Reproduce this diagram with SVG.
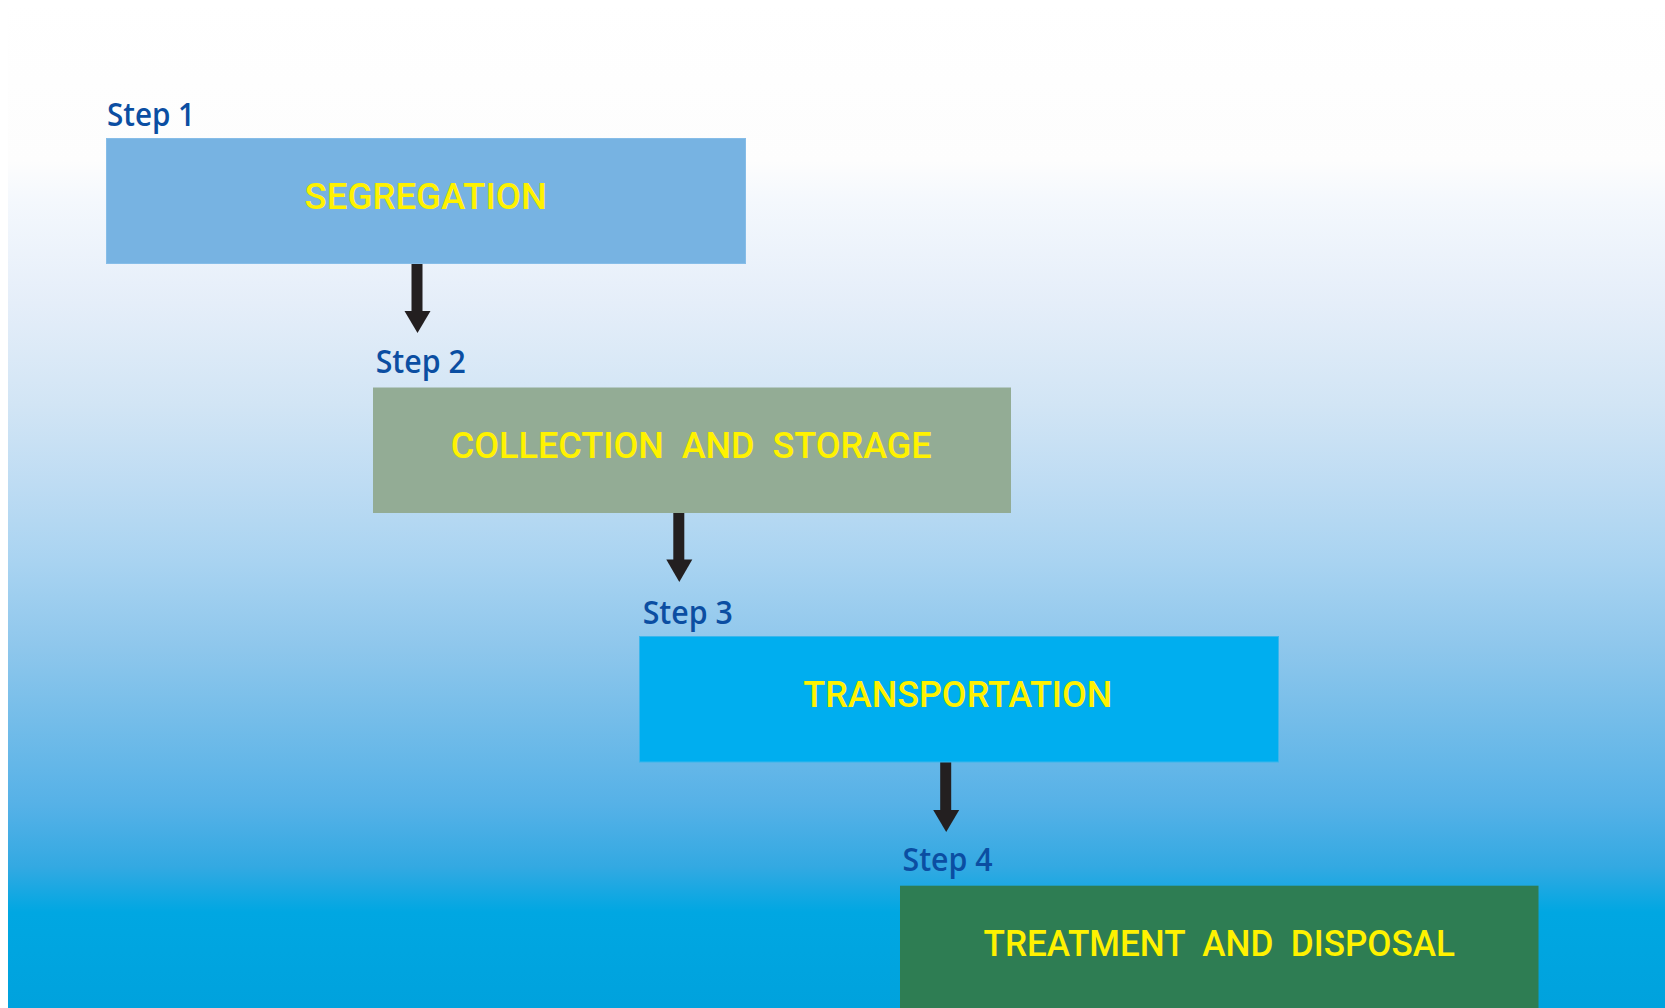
<svg xmlns="http://www.w3.org/2000/svg" width="1665" height="1008" viewBox="0 0 1665 1008">
  <defs>
    <linearGradient id="sky" x1="0" y1="0" x2="0" y2="1008" gradientUnits="userSpaceOnUse">
      <stop offset="0" stop-color="#ffffff"/>
      <stop offset="0.16" stop-color="#fdfdfd"/>
      <stop offset="0.2" stop-color="#f4f8fd"/>
      <stop offset="0.3" stop-color="#e5eef9"/>
      <stop offset="0.4" stop-color="#d2e5f5"/>
      <stop offset="0.48" stop-color="#bedcf3"/>
      <stop offset="0.56" stop-color="#a8d3f1"/>
      <stop offset="0.64" stop-color="#8fc7ec"/>
      <stop offset="0.72" stop-color="#72bce9"/>
      <stop offset="0.8" stop-color="#55b1e7"/>
      <stop offset="0.86" stop-color="#33a9e2"/>
      <stop offset="0.905" stop-color="#00a7e2"/>
      <stop offset="1" stop-color="#00a2dd"/>
    </linearGradient>
  </defs>
  <style>
    .step { font-family: "Open Sans", "Liberation Sans", sans-serif; font-weight: 600; font-size: 32px; fill: #0b4ea2; }
    .label { font-family: Roboto, "Liberation Sans", sans-serif; font-weight: 500; font-size: 37px; fill: #fff200; }
    .arrow { fill: #231f20; }
  </style>

  <!-- backdrop -->
  <rect x="0" y="0" width="1665" height="1008" fill="#ffffff"/>
  <rect x="8" y="6" width="1657" height="1002" fill="url(#sky)"/>

  <!-- connectors: block arrows between consecutive steps -->
  <g id="connectors">
    <g id="arrow-1-2" class="arrow">
      <rect x="411.5" y="264" width="11" height="48"/>
      <path d="M404.5 311 L430.5 311 L417.5 333 Z"/>
    </g>
    <g id="arrow-2-3" class="arrow">
      <rect x="673.3" y="513" width="11" height="47"/>
      <path d="M666.3 559.5 L692.3 559.5 L679.3 582 Z"/>
    </g>
    <g id="arrow-3-4" class="arrow">
      <rect x="940.2" y="762" width="11" height="49"/>
      <path d="M933.2 810 L959.2 810 L946.2 832 Z"/>
    </g>
  </g>

  <!-- step 1 -->
  <g id="node-segregation">
    <text class="step" x="107" y="126" textLength="88" lengthAdjust="spacingAndGlyphs">Step 1</text>
    <rect x="106.5" y="138.5" width="639" height="125" fill="#77b3e2" stroke="#86bde8" stroke-width="1"/>
    <text class="label" x="304.6" y="209.3" textLength="242.4" lengthAdjust="spacingAndGlyphs">SEGREGATION</text>
  </g>

  <!-- step 2 -->
  <g id="node-collection">
    <text class="step" x="375.7" y="373.3" textLength="90" lengthAdjust="spacingAndGlyphs">Step 2</text>
    <rect x="373" y="387.5" width="638" height="125.5" fill="#93ac95"/>
    <text class="label" x="450.7" y="458.3" textLength="481" lengthAdjust="spacingAndGlyphs" xml:space="preserve">COLLECTION  AND  STORAGE</text>
  </g>

  <!-- step 3 -->
  <g id="node-transportation">
    <text class="step" x="642.7" y="624" textLength="90" lengthAdjust="spacingAndGlyphs">Step 3</text>
    <rect x="639.5" y="636.5" width="639" height="125.5" fill="#00aeef" stroke="#3bb6ec" stroke-width="1"/>
    <text class="label" x="803.3" y="706.7" textLength="309" lengthAdjust="spacingAndGlyphs">TRANSPORTATION</text>
  </g>

  <!-- step 4 -->
  <g id="node-treatment">
    <text class="step" x="902.5" y="870.7" textLength="90" lengthAdjust="spacingAndGlyphs">Step 4</text>
    <rect x="900" y="885.7" width="638.5" height="130" fill="#2e7d53"/>
    <text class="label" x="983.5" y="955.7" textLength="471.5" lengthAdjust="spacingAndGlyphs" xml:space="preserve">TREATMENT  AND  DISPOSAL</text>
  </g>
</svg>
